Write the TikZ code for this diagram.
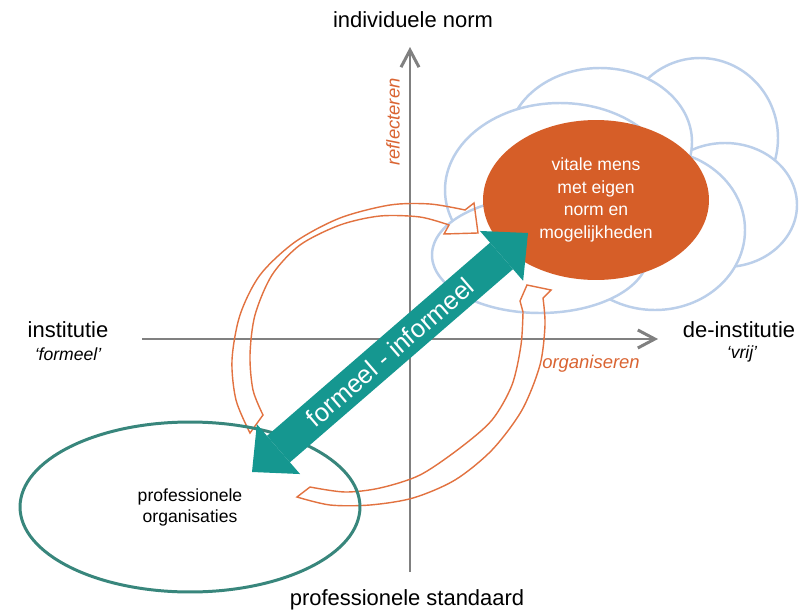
\documentclass[tikz,border=0pt]{standalone}
\usepackage{fontspec}
\setmainfont{Liberation Sans}
\usetikzlibrary{arrows.meta,shapes.geometric}
\definecolor{axisgray}{RGB}{128,128,128}
\definecolor{cloudblue}{RGB}{187,207,234}
\definecolor{mensorange}{RGB}{214,94,40}
\definecolor{looporange}{RGB}{226,114,64}
\definecolor{verborange}{RGB}{218,100,50}
\definecolor{arrowteal}{RGB}{21,151,144}
\definecolor{orgteal}{RGB}{56,134,124}
\tikzset{bigtip/.tip={Triangle[length=0.7cm,width=1.32cm,line width=0pt]}}

\begin{document}
\begin{tikzpicture}[x=0.02cm,y=-0.02cm]
        \tikzstyle{axis}=[axisgray,line width=1.7pt,-{Straight Barb[length=0.34cm,width=0.36cm]}]
        \tikzstyle{cloud}=[draw=cloudblue,line width=1.4pt,fill=white]
        \tikzstyle{loop}=[looporange,line width=0.8pt,line join=miter]
        \tikzstyle{lbl}=[font=\fontsize{12.5}{15}\selectfont]
        \tikzstyle{sub}=[font=\fontsize{10}{12}\selectfont\itshape]
        \tikzstyle{verb}=[verborange,font=\fontsize{10.5}{12}\selectfont\itshape]
        \useasboundingbox[fill=white] (0,0) rectangle (805,612);
        \coordinate (west) at (142,339);
        \coordinate (east) at (658,339);
        \coordinate (south) at (410,572);
        \coordinate (north) at (410,47);
        \draw[axis] (west) -- (east);
        \draw[axis] (south) -- (north);
        \draw[cloud] (700,138) ellipse [x radius=78, y radius=80];
        \draw[cloud] (725,205) ellipse [x radius=72, y radius=62];
        \draw[cloud] (655,230) ellipse [x radius=90, y radius=80];
        \draw[cloud] (600,142) ellipse [x radius=92, y radius=74];
        \draw[cloud] (560,190) ellipse [x radius=115, y radius=87];
        \draw[cloud] (540,255) ellipse [x radius=108, y radius=58];
        \node[ellipse,fill=mensorange,minimum width=4.52cm,minimum height=3.2cm,inner sep=0pt,text=white,align=center,font=\fontsize{10}{13}\selectfont] (mens) at (596,200) {vitale mens\\met eigen\\norm en\\mogelijkheden};
        \draw[loop] plot[smooth] coordinates {(250,433) (236,400) (232,360) (240,315) (260,275) (295,242) (340,218) (390,205) (430,204) (465,210)} -- (474,203) -- (478,233) -- (444,234) -- plot[smooth] coordinates {(449,225) (420,217) (380,216) (340,225) (300,245) (272,275) (255,315) (250,355) (253,390) (263,415)} -- cycle;
        \draw[loop] plot[smooth] coordinates {(297,497) (330,505) (370,505) (413,498) (455,480) (492,450) (522,410) (540,365) (545,325) (543,298)} -- (551,290) -- (527,285) -- (520,301) -- plot[smooth] coordinates {(523,312) (521,345) (512,385) (492,420) (460,448) (420,475) (380,488) (345,492) (310,487)} -- cycle;
        \node[ellipse,draw=orgteal,line width=1.7pt,minimum width=6.8cm,minimum height=3.4cm,inner sep=0pt,align=center,font=\fontsize{10}{12}\selectfont] (org) at (190,507) {professionele\\organisaties};
        \coordinate (lo) at (252,472);
        \coordinate (hi) at (528,233);
        \draw[arrowteal,line width=0.7cm,{bigtip}-{bigtip}] (lo) -- (hi) node [midway, sloped, text=white, font=\fontsize{14.5}{17}\selectfont] (fi) {formeel - informeel};
        \node[lbl] (ind) at (413,20) {individuele norm};
        \node[lbl] (std) at (407,600) {professionele standaard};
        \node[lbl] (inst) at (68,330) {institutie};
        \node[sub] (form) at (68,354) {‘formeel’};
        \node[lbl] (deinst) at (739,330) {de-institutie};
        \node[sub] (vrij) at (742,354) {‘vrij’};
        \node[verb,rotate=90] (refl) at (393,122) {reflecteren};
        \node[verb] (orgn) at (591,364) {organiseren};
    \end{tikzpicture}
\end{document}
